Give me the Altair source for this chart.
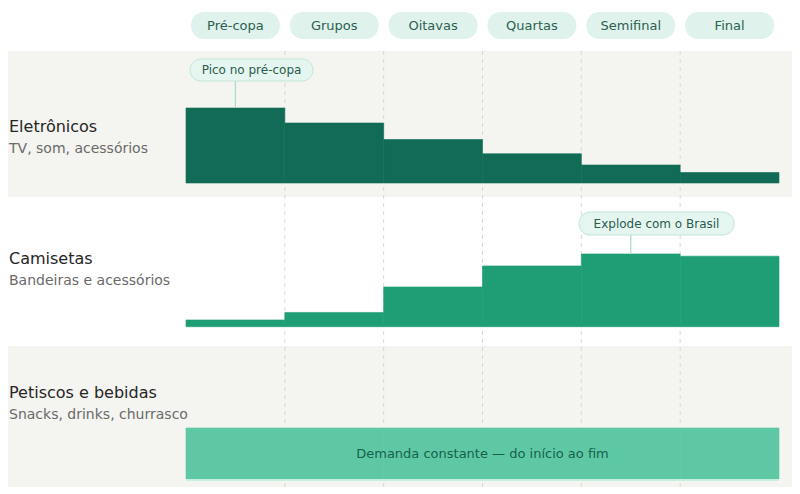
import altair as alt
import pandas as pd

# ---- data ----
stages = ["Pré-copa", "Grupos", "Oitavas", "Quartas", "Semifinal", "Final"]
row_titles = ["Eletrônicos", "Camisetas", "Petiscos e bebidas"]
row_subtitles = ["TV, som, acessórios", "Bandeiras e acessórios", "Snacks, drinks, churrasco"]
eletronicos = [100, 80, 58, 39, 24, 14]
camisetas = [9, 19, 53, 81, 97, 94]
petiscos = [68, 68, 68, 68, 68, 68]
annotation_texts = ["Pico no pré-copa", "Explode com o Brasil"]
annotation_stage = [0, 4]
band_note = "Demanda constante — do início ao fim"

# ---- styling / layout (pixels, chart coordinates) ----
W, H = 784, 479
FONT = "DejaVu Sans"
BG_GRAY = "#f4f4f0"
PILL_FILL = "#dff3ec"
PILL_TEXT = "#2c5e51"
GRID = "#d9d9d4"
COLORS = ["#116b56", "#1f9e75", "#5ec8a4"]
ROW_TOP = [43, 189, 338]
ROW_BOTTOM = [189, 338, 479]
ROW_BG = [BG_GRAY, None, BG_GRAY]
BASE = [175, 318.7, 471]
TITLE_Y = [124, 256, 390]
PX_PER_UNIT = 0.75

X = alt.Scale(domain=[0, 6], range=[178, 771])


def stage_df(values):
    return pd.DataFrame({
        "stage": stages,
        "start": list(range(len(stages))),
        "end": [i + 1 for i in range(len(stages))],
        "v": values,
    })


def yscale(r):
    return alt.Scale(domain=[0, 100], range=[BASE[r], BASE[r] - 100 * PX_PER_UNIT])


layers = []

# row backgrounds
for r in range(3):
    if ROW_BG[r]:
        layers.append(
            alt.Chart(pd.DataFrame({"a": [r]})).mark_rect(color=ROW_BG[r]).encode(
                x=alt.value(0), x2=alt.value(W),
                y=alt.value(ROW_TOP[r]), y2=alt.value(ROW_BOTTOM[r]),
            )
        )

# dashed stage dividers
layers.append(
    alt.Chart(pd.DataFrame({"b": [1, 2, 3, 4, 5]})).mark_rule(
        color=GRID, strokeDash=[4, 4], strokeWidth=1
    ).encode(x=alt.X("b:Q", scale=X, axis=None), y=alt.value(ROW_TOP[0]), y2=alt.value(H))
)

# header pills
hdr = pd.DataFrame({
    "stage": stages,
    "x0": [i + 0.05 for i in range(len(stages))],
    "x1": [i + 0.95 for i in range(len(stages))],
    "xc": [i + 0.5 for i in range(len(stages))],
})
layers.append(
    alt.Chart(hdr).mark_rect(cornerRadius=13, color=PILL_FILL).encode(
        x=alt.X("x0:Q", scale=X, axis=None), x2="x1:Q",
        y=alt.value(4), y2=alt.value(31),
    )
)
layers.append(
    alt.Chart(hdr).mark_text(fontSize=13, color=PILL_TEXT, baseline="middle", align="center").encode(
        x=alt.X("xc:Q", scale=X, axis=None), y=alt.value(17.5), text="stage:N",
    )
)

# step bars
for r, vals in enumerate([eletronicos, camisetas, petiscos]):
    layers.append(
        alt.Chart(stage_df(vals)).mark_rect(color=COLORS[r], stroke=COLORS[r], strokeWidth=0.6).encode(
            x=alt.X("start:Q", scale=X, axis=None), x2="end:Q",
            y=alt.Y("v:Q", scale=yscale(r), axis=None), y2=alt.datum(0),
        )
    )

# constant-demand band details
layers.append(
    alt.Chart(pd.DataFrame({"x0": [0], "x1": [6]})).mark_rule(color="#c9efe1", strokeWidth=2).encode(
        x=alt.X("x0:Q", scale=X, axis=None), x2="x1:Q", y=alt.value(BASE[2] + 1)
    )
)
layers.append(
    alt.Chart(pd.DataFrame({"t": [band_note], "xc": [3]})).mark_text(
        fontSize=13, color="#16614c", align="center", baseline="middle"
    ).encode(x=alt.X("xc:Q", scale=X, axis=None), y=alt.value(446), text="t:N")
)

# annotations: (row, pill x0, pill x1, text x, pill top, pill bottom)
ann_specs = [(0, 0.04, 1.285, 0.663, 51, 73), (1, 3.977, 5.545, 4.761, 204, 227)]
for k, (r, px0, px1, pxc, py0, py1) in enumerate(ann_specs):
    s = annotation_stage[k]
    vals = [eletronicos, camisetas, petiscos][r]
    adf = pd.DataFrame({
        "t": [annotation_texts[k]],
        "xs": [s + 0.5],
        "v": [vals[s]],
        "x0": [px0], "x1": [px1], "xc": [pxc],
    })
    layers.append(
        alt.Chart(adf).mark_rule(color="#a9dbc9", strokeWidth=1.2).encode(
            x=alt.X("xs:Q", scale=X, axis=None),
            y=alt.Y("v:Q", scale=yscale(r), axis=None), y2=alt.value(py1),
        )
    )
    layers.append(
        alt.Chart(adf).mark_rect(cornerRadius=11, fill="#e5f6f0", stroke="#c2e6d9", strokeWidth=1).encode(
            x=alt.X("x0:Q", scale=X, axis=None), x2="x1:Q",
            y=alt.value(py0), y2=alt.value(py1),
        )
    )
    layers.append(
        alt.Chart(adf).mark_text(fontSize=12, color="#2b5a4d", align="center", baseline="middle").encode(
            x=alt.X("xc:Q", scale=X, axis=None), y=alt.value((py0 + py1) / 2), text="t:N",
        )
    )

# row labels
lab = pd.DataFrame({"title": row_titles, "sub": row_subtitles, "ty": TITLE_Y,
                    "sy": [t + 21 for t in TITLE_Y]})
layers.append(
    alt.Chart(lab).mark_text(fontSize=16, color="#262626", align="left", baseline="alphabetic").encode(
        x=alt.value(1), y=alt.Y("ty:Q", scale=None), text="title:N"
    )
)
layers.append(
    alt.Chart(lab).mark_text(fontSize=14, color="#6a6a6a", align="left", baseline="alphabetic").encode(
        x=alt.value(1), y=alt.Y("sy:Q", scale=None), text="sub:N"
    )
)

chart = alt.layer(*layers).resolve_scale(x="shared", y="independent").properties(
    width=W, height=H, padding=0, autosize=alt.AutoSizeParams(type="none")
).configure(font=FONT).configure_view(stroke="transparent")

chart.save("out.html", embed_options={"renderer": "svg", "actions": False})
